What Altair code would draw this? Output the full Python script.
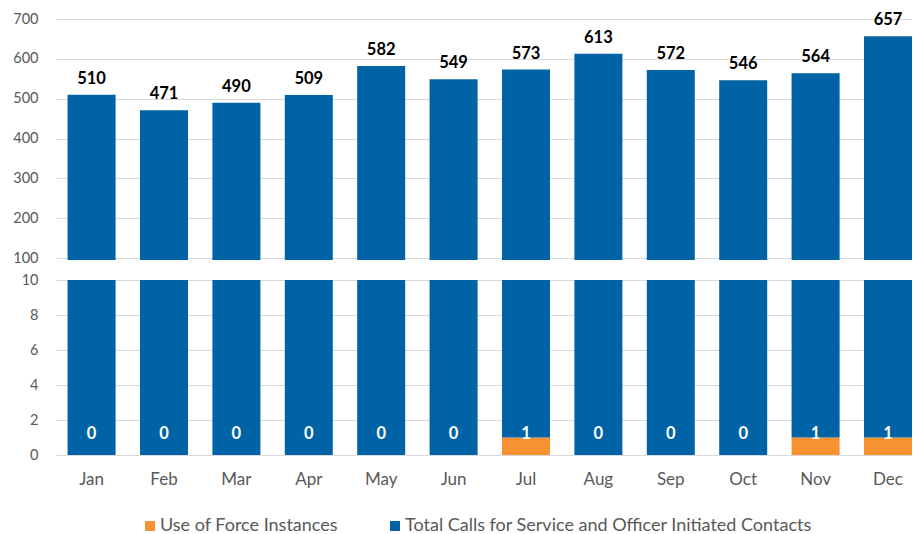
import altair as alt
import pandas as pd

months = ["Jan", "Feb", "Mar", "Apr", "May", "Jun", "Jul", "Aug", "Sep", "Oct", "Nov", "Dec"]
calls = [510, 471, 490, 509, 582, 549, 573, 613, 572, 546, 564, 657]
force = [0, 0, 0, 0, 0, 0, 1, 0, 0, 0, 1, 1]

S_FORCE = "Use of Force Instances"
S_CALLS = "Total Calls for Service and Officer Initiated Contacts"
BLUE = "#0063A6"
ORANGE = "#F79232"
GRID = "#D9D9D9"
TXT = "#595959"
FONT = "Lato"

df = pd.DataFrame({"month": months, "calls": calls, "force": force})

color_scale = alt.Scale(domain=[S_FORCE, S_CALLS], range=[ORANGE, BLUE])
legend = alt.Legend(
    title=None, orient="none", direction="horizontal", legendX=85, legendY=498,
    symbolType="square", symbolSize=100, symbolStrokeWidth=0,
    labelFont=FONT, labelFontSize=18, labelColor=TXT, labelOffset=1,
    labelLimit=600, columnPadding=48,
)
col = alt.Color("series:N", scale=color_scale, legend=legend, sort=[S_FORCE, S_CALLS])

xscale = alt.Scale(paddingInner=0.337, paddingOuter=0.08, align=1.0)
x_top = alt.X("month:N", sort=months, scale=xscale, axis=None)
x_bot = alt.X("month:N", sort=months, scale=xscale,
              axis=alt.Axis(title=None, labelAngle=0, ticks=False, domain=False,
                            labelFont=FONT, labelFontSize=17, labelColor=TXT,
                            labelPadding=16))

base = alt.Chart(df)

y_top_scale = alt.Scale(domain=[95, 700], nice=False, zero=False)
y_top_axis = alt.Axis(title=None, values=[100, 200, 300, 400, 500, 600, 700], ticks=False,
                      domain=False, labelFont=FONT, labelFontSize=14.5, labelColor=TXT,
                      labelPadding=18, gridColor=GRID, minExtent=48, maxExtent=48,
                      labelOverlap=False)

top_bars = base.transform_calculate(series=f"'{S_CALLS}'").mark_bar(clip=True).encode(
    x=x_top,
    y=alt.Y("calls:Q", scale=y_top_scale, axis=y_top_axis),
    y2=alt.datum(95),
    color=col,
)
top_text = base.mark_text(font=FONT, fontSize=16.5, fontWeight="bold", color="black",
                          baseline="alphabetic", dy=-11).encode(
    x=x_top,
    y=alt.Y("calls:Q", scale=y_top_scale, axis=y_top_axis),
    text=alt.Text("calls:Q"),
)
top = alt.layer(top_bars, top_text).properties(width=856, height=241)

y_bot_scale = alt.Scale(domain=[0, 10], nice=False)
y_bot_axis = alt.Axis(title=None, values=[0, 2, 4, 6, 8, 10], ticks=False,
                      domain=False, labelFont=FONT, labelFontSize=14.5, labelColor=TXT,
                      labelPadding=18, gridColor=GRID, minExtent=48, maxExtent=48,
                      labelOverlap=False)

bot_force = base.transform_calculate(series=f"'{S_FORCE}'").mark_bar(clip=True).encode(
    x=x_bot,
    y=alt.Y("force:Q", scale=y_bot_scale, axis=y_bot_axis),
    y2=alt.datum(0),
    color=col,
)
bot_calls = base.transform_calculate(series=f"'{S_CALLS}'").mark_bar(clip=True).encode(
    x=x_bot,
    y=alt.Y("force:Q", scale=y_bot_scale, axis=y_bot_axis),
    y2=alt.datum(10),
    color=col,
)
bot_text = base.mark_text(font=FONT, fontSize=16.5, fontWeight="bold", color="white",
                          baseline="middle").encode(
    x=x_bot,
    y=alt.Y(datum=1.2, scale=y_bot_scale, axis=y_bot_axis),
    text=alt.Text("force:Q"),
)
bottom = alt.layer(bot_force, bot_calls, bot_text).properties(width=856, height=175)

chart = alt.vconcat(top, bottom, spacing=7).properties(
    padding={"left": 0, "top": 3, "right": 0, "bottom": 0},
    background="white",
).configure_view(stroke=None).configure_axis(grid=True)

chart.save("out.html", embed_options={"renderer": "svg", "actions": False})
